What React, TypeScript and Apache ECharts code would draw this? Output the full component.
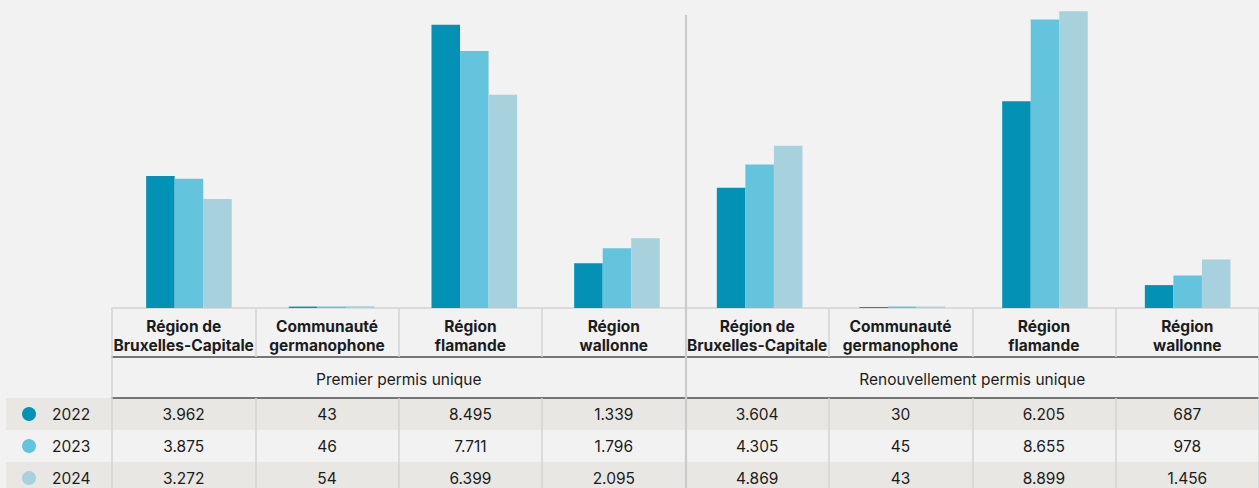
import React, { useEffect, useRef } from "react";
import * as echarts from "echarts";

const categories = [
  "Région de\nBruxelles-Capitale",
  "Communauté\ngermanophone",
  "Région\nflamande",
  "Région\nwallonne",
  "Région de\nBruxelles-Capitale",
  "Communauté\ngermanophone",
  "Région\nflamande",
  "Région\nwallonne",
];
const groups = ["Premier permis unique", "Renouvellement permis unique"];
const years = ["2022", "2023", "2024"];
const values2022 = [3962, 43, 8495, 1339, 3604, 30, 6205, 687];
const values2023 = [3875, 46, 7711, 1796, 4305, 45, 8655, 978];
const values2024 = [3272, 54, 6399, 2095, 4869, 43, 8899, 1456];
const seriesValues = [values2022, values2023, values2024];
const colors = ["#0392b5", "#65c4dd", "#a8d1de"];

const fmt = (n: number) => String(n).replace(/\B(?=(\d{3})+(?!\d))/g, ".");

const W = 1259;
const H = 488;
const GRID_LEFT = 112;
const GRID_WIDTH = 1148;
const BAR_LEFT = 117.6;
const BAR_WIDTH = 1141.7;
const GRID_TOP = 8;
const BASE = 308;
const HEADER_H = 49;
const GROUP_H = 41;
const ROW_H = 32;
const FONT = "Inter, 'Noto Sans', sans-serif";
const LIGHT = "#d3d3d3";
const DARK = "#4d4d4d";
const TEXT = "#1c1c1c";

export default function App() {
  const ref = useRef<HTMLDivElement>(null);
  useEffect(() => {
    if (!ref.current) return;
    const chart = echarts.init(ref.current, undefined, { renderer: "svg" });
    const dividerX = GRID_LEFT + GRID_WIDTH / 2;
    const rowTop = BASE + HEADER_H + GROUP_H;

    const rowAxis = (vals: number[], i: number) => ({
      type: "category",
      gridIndex: 1,
      position: "bottom",
      offset: HEADER_H + GROUP_H + i * ROW_H,
      data: vals.map(fmt),
      axisLine: { show: i === 0, lineStyle: { color: DARK, width: 1.5 } },
      axisTick: { show: true, length: ROW_H, lineStyle: { color: LIGHT, width: 1.5 } },
      axisLabel: {
        interval: 0,
        margin: 8,
        fontSize: 15.5,
        lineHeight: 16,
        color: TEXT,
        fontFamily: FONT,
        hideOverlap: false,
      },
      splitLine: { show: false },
    });

    chart.setOption({
      animation: false,
      backgroundColor: "#f2f2f2",
      textStyle: { fontFamily: FONT },
      grid: [
        { left: BAR_LEFT, top: GRID_TOP, width: BAR_WIDTH, height: BASE - GRID_TOP, containLabel: false },
        { left: GRID_LEFT, top: GRID_TOP, width: GRID_WIDTH, height: BASE - GRID_TOP, containLabel: false },
      ],
      legend: {
        data: years,
        orient: "vertical",
        left: 22,
        top: rowTop + 8,
        height: 140,
        padding: 0,
        itemWidth: 14,
        itemHeight: 14,
        itemGap: 16,
        icon: "circle",
        textStyle: { fontSize: 15.5, lineHeight: 16, color: TEXT, fontFamily: FONT, padding: [0, 0, 0, 11] },
        selectedMode: false,
      },
      xAxis: [
        {
          type: "category",
          gridIndex: 0,
          data: categories,
          show: false,
        },
        {
          type: "category",
          gridIndex: 1,
          position: "bottom",
          data: categories,
          axisLine: { show: true, lineStyle: { color: LIGHT, width: 1.5 } },
          axisTick: { show: true, length: HEADER_H, lineStyle: { color: LIGHT, width: 1.5 } },
          axisLabel: {
            interval: 0,
            margin: 9,
            fontSize: 15.5,
            fontWeight: "bold",
            lineHeight: 19,
            color: TEXT,
            fontFamily: FONT,
            hideOverlap: false,
          },
        },
        {
          type: "category",
          gridIndex: 1,
          position: "bottom",
          offset: HEADER_H,
          data: groups,
          axisLine: { show: true, lineStyle: { color: DARK, width: 1.5 } },
          axisTick: { show: true, length: GROUP_H, lineStyle: { color: LIGHT, width: 1.5 } },
          axisLabel: {
            interval: 0,
            margin: 14,
            fontSize: 15.5,
            lineHeight: 16,
            color: TEXT,
            fontFamily: FONT,
          },
        },
        ...seriesValues.map((v, i) => rowAxis(v, i)),
      ],
      yAxis: [
        { type: "value", gridIndex: 0, min: 0, max: 9000, show: false },
        { type: "value", gridIndex: 1, min: 0, max: 1, show: false },
      ],
      series: years.map((y, i) => ({
        name: y,
        type: "bar",
        xAxisIndex: 0,
        yAxisIndex: 0,
        data: seriesValues[i],
        barGap: "0%",
        barCategoryGap: "40%",
        itemStyle: { color: colors[i] },
      })),
      color: colors,
      graphic: [
        {
          type: "rect",
          z: -10,
          shape: { x: 6, y: rowTop, width: W - 6, height: ROW_H },
          style: { fill: "#e8e7e3" },
        },
        {
          type: "rect",
          z: -10,
          shape: { x: 6, y: rowTop + 2 * ROW_H, width: W - 6, height: ROW_H },
          style: { fill: "#e8e7e3" },
        },
        {
          type: "line",
          z: 10,
          shape: { x1: dividerX, y1: 15, x2: dividerX, y2: H },
          style: { stroke: "#cbcbcb", lineWidth: 2.2 },
        },
      ],
    });
    return () => chart.dispose();
  }, []);
  return (
    <div
      ref={ref}
      style={{ position: "absolute", left: 0, top: 0, width: W, height: H }}
    />
  );
}
